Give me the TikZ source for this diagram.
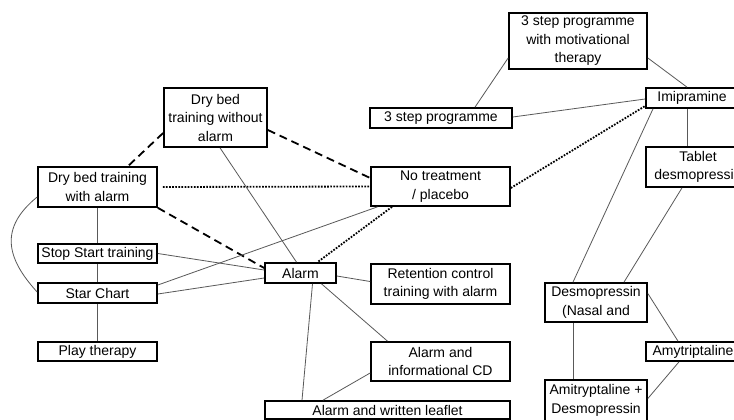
\documentclass[tikz,border=0pt]{standalone}
\usepackage{fontspec}
\setmainfont{Liberation Sans}
\usetikzlibrary{calc}
\tikzset{
  box/.style={draw=black, line width=1.7pt, inner sep=0pt, align=center,
    font=\fontsize{14}{18.5}\selectfont, text=black},
  link/.style={draw=black!65, line width=0.8pt},
  dashlink/.style={draw=black, line width=1.8pt, dash pattern=on 8pt off 5pt},
  dotlink/.style={draw=black, line width=1.8pt, dash pattern=on 1.7pt off 1.4pt}
}
\begin{document}
\begin{tikzpicture}[x=1pt,y=-1pt]
\useasboundingbox (0,0) rectangle (734,420);
\fill[white] (0,0) rectangle (734,420);
\clip (0,0) rectangle (734,420);
% nodes
\node[box, minimum width=103pt, minimum height=59pt] (nowo) at (215.5,117.5) {Dry bed\\training without\\alarm};
\node[box, minimum width=119pt, minimum height=40pt] (dwa) at (97.5,187) {Dry bed training\\with alarm};
\node[box, minimum width=119pt, minimum height=19pt] (ss) at (97.5,253.5) {Stop Start training};
\node[box, minimum width=119pt, minimum height=20pt] (sc) at (97.5,293) {Star Chart};
\node[box, minimum width=119pt, minimum height=19pt] (pt) at (97.5,351.5) {Play therapy};
\node[box, minimum width=71pt, minimum height=20pt] (al) at (300.5,273) {Alarm};
\node[box, minimum width=139pt, minimum height=39pt] (nt) at (440.5,186.5) {No treatment\\/ placebo};
\node[box, minimum width=139pt, minimum height=40pt] (rc) at (440.5,284) {Retention control\\training with alarm};
\node[box, minimum width=139pt, minimum height=39pt] (cd) at (440.5,361.5) {Alarm and\\informational CD};
\node[box, minimum width=245pt, minimum height=18pt] (wl) at (387.5,410) {Alarm and written leaflet};
\node[box, minimum width=138pt, minimum height=56pt] (mot) at (578,41) {3 step programme\\with motivational\\therapy};
\node[box, minimum width=142pt, minimum height=20pt] (tsp) at (441,118) {3 step programme};
\node[box, minimum width=92pt, minimum height=20pt] (imi) at (692,98) {Imipramine};
\node[box, minimum width=104pt, minimum height=40pt] (tab) at (698,167) {Tablet\\desmopressin};
\node[box, minimum width=102pt, minimum height=39pt] (dn) at (596,302.5) {Desmopressin\\(Nasal and};
\node[box, minimum width=94pt, minimum height=19pt] (amy) at (693,351.5) {Amytriptaline};
\node[box, minimum width=102pt, minimum height=41pt] (ad) at (596,400.5) {Amitryptaline +\\Desmopressin};
% dashed connectors
\draw[dashlink] ($(nowo.west)+(0,15.5)$) -- ($(dwa.north)+(30.5,0)$);
\draw[dashlink] ($(nowo.east)+(0,12.5)$) -- ($(nt.west)+(0,-8.5)$);
\draw[dashlink] (dwa.south east) -- ($(al.west)+(0,-5)$);
% dotted connectors
\draw[dotlink] ($(dwa.east)+(5,0)$) -- (nt.west);
\draw[dotlink] ($(nt.south)+(-48.5,0)$) -- ($(al.north)+(17,0)$);
\draw[dotlink] ($(nt.east)+(0,1.5)$) -- ($(imi.west)+(0,8)$);
% thin connectors
\draw[link] ($(nowo.south)+(4.5,0)$) -- ($(al.north)+(-4,0)$);
\draw[link] (dwa.south) -- (ss.north);
\draw[link] (ss.south) -- (sc.north);
\draw[link] (sc.south) -- (pt.north);
\draw[link] ($(dwa.west)+(0,10)$) .. controls ($(dwa.west)+(-38,41)$) and ($(sc.west)+(-31,-35)$) .. ($(sc.west)+(0,-1)$);
\draw[link] (ss.east) -- ($(al.west)+(0,-3)$);
\draw[link] ($(sc.east)+(0,1)$) -- ($(al.west)+(0,5)$);
\draw[link] ($(sc.east)+(0,-8)$) -- ($(nt.south)+(-63,0)$);
\draw[link] ($(al.east)+(0,3)$) -- ($(rc.west)+(0,-2.5)$);
\draw[link] ($(al.south)+(21,0)$) -- ($(cd.north)+(-53,0)$);
\draw[link] ($(al.south)+(12,0)$) -- ($(wl.north)+(-85.5,0)$);
\draw[link] ($(cd.west)+(0,11.5)$) -- ($(wl.north)+(-64.5,0)$);
\draw[link] ($(mot.west)+(0,17)$) -- ($(tsp.north)+(34,0)$);
\draw[link] ($(mot.east)+(0,17)$) -- ($(imi.north)+(-5,0)$);
\draw[link] ($(tsp.east)+(0,-1)$) -- ($(imi.west)+(0,1)$);
\draw[link] ($(imi.south)+(-5,0)$) -- ($(tab.north)+(-11,0)$);
\draw[link] ($(imi.south)+(-39,0)$) -- ($(dn.north)+(-23,0)$);
\draw[link] ($(tab.south)+(-16,0)$) -- ($(dn.north)+(28,0)$);
\draw[link] ($(dn.east)+(0,-9)$) -- ($(amy.north)+(-15,0)$);
\draw[link] ($(dn.south)+(-22.5,0)$) -- ($(ad.north)+(-22.5,0)$);
\draw[link] ($(amy.south)+(-14,0)$) -- ($(ad.east)+(0,-2)$);
\end{tikzpicture}
\end{document}
